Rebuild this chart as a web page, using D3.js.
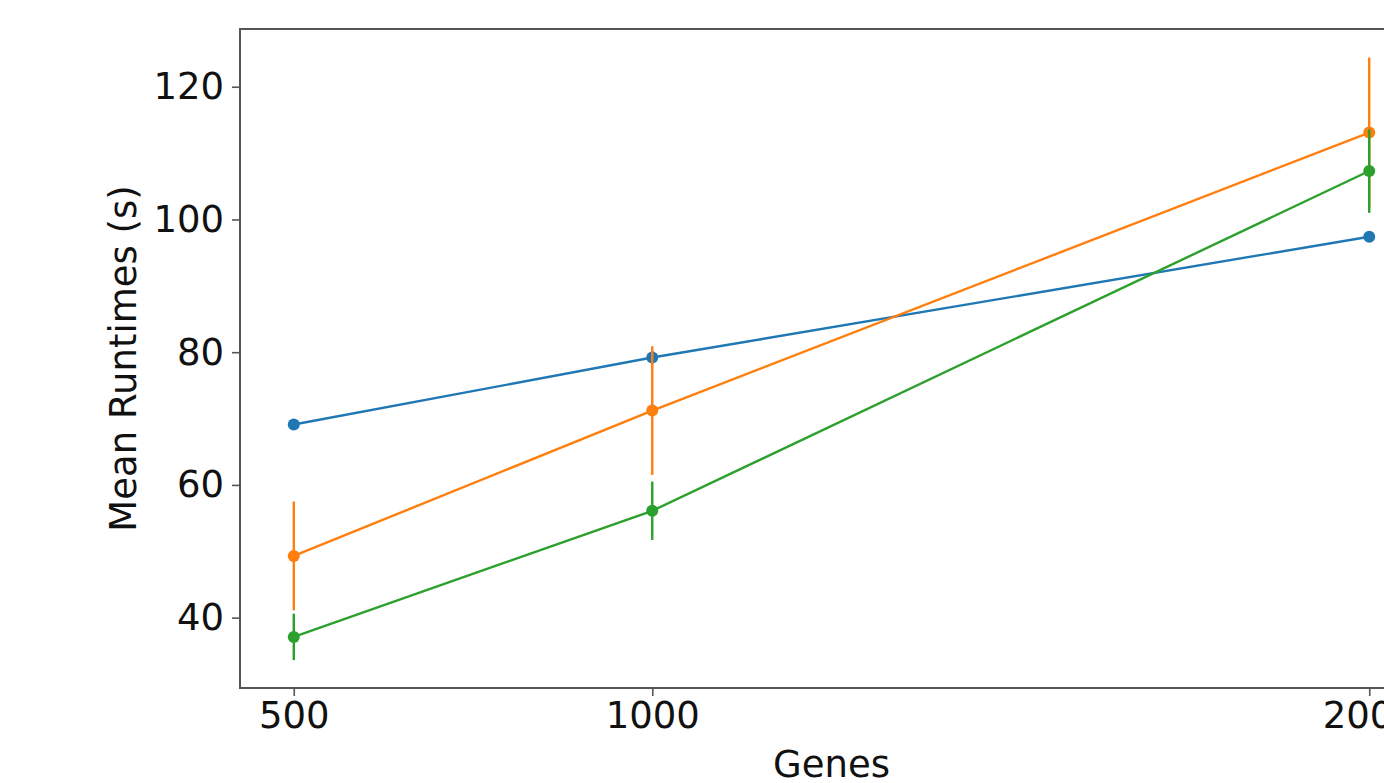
<!DOCTYPE html>
<html>
<head>
<meta charset="utf-8">
<script src="https://cdn.jsdelivr.net/npm/d3@7"></script>
<style>
  html, body { margin: 0; padding: 0; background: #fff; overflow: hidden; }
  svg { display: block; font-family: "DejaVu Sans", sans-serif; }
</style>
</head>
<body>
<div id="chart"></div>
<script>
const genes = [500, 1000, 2000];
const xTicks = [500, 1000, 2000];
const yTicks = [40, 60, 80, 100, 120];

// mean runtime and error per series, in gene order
const seriesNames = ["blue", "orange", "green"];
const seriesColors = ["#1f77b4", "#ff7f0e", "#2ca02c"];
const blueMean = [69.1, 79.2, 97.4];
const blueErr = [0.8, 1.0, 0.8];
const orangeMean = [49.3, 71.2, 113.1];
const orangeErr = [8.2, 9.7, 11.3];
const greenMean = [37.1, 56.1, 107.3];
const greenErr = [3.5, 4.4, 6.3];

const series = [
  { name: seriesNames[0], color: seriesColors[0], mean: blueMean, err: blueErr },
  { name: seriesNames[1], color: seriesColors[1], mean: orangeMean, err: orangeErr },
  { name: seriesNames[2], color: seriesColors[2], mean: greenMean, err: greenErr },
];

const width = 1384;
const height = 783;
const margin = { top: 29, right: -39, bottom: 95, left: 240 };

const svg = d3.select("#chart").append("svg")
  .attr("width", width)
  .attr("height", height);

const x = d3.scaleLinear()
  .domain([425, 2075])
  .range([margin.left, width - margin.right]);

const y = d3.scaleLinear()
  .domain([29.4, 128.7])
  .range([height - margin.bottom, margin.top]);

const line = d3.line()
  .x((d) => x(d.g))
  .y((d) => y(d.v));

const plot = svg.append("g");

series.forEach((s) => {
  const pts = genes.map((g, i) => ({ g, v: s.mean[i], e: s.err[i] }));
  const g = plot.append("g").attr("class", "series-" + s.name);

  g.append("path")
    .datum(pts)
    .attr("fill", "none")
    .attr("stroke", s.color)
    .attr("stroke-width", 2.4)
    .attr("d", line);

  g.selectAll(".err")
    .data(pts)
    .join("line")
    .attr("class", "err")
    .attr("x1", (d) => x(d.g))
    .attr("x2", (d) => x(d.g))
    .attr("y1", (d) => y(d.v - d.e))
    .attr("y2", (d) => y(d.v + d.e))
    .attr("stroke", s.color)
    .attr("stroke-width", 2.4);

  g.selectAll(".dot")
    .data(pts)
    .join("circle")
    .attr("class", "dot")
    .attr("cx", (d) => x(d.g))
    .attr("cy", (d) => y(d.v))
    .attr("r", 6)
    .attr("fill", s.color);
});

// frame
svg.append("rect")
  .attr("x", margin.left)
  .attr("y", margin.top)
  .attr("width", x.range()[1] - margin.left)
  .attr("height", y.range()[0] - margin.top)
  .attr("fill", "none")
  .attr("stroke", "#555")
  .attr("stroke-width", 2);

const xAxis = svg.append("g")
  .attr("transform", `translate(0,${y.range()[0]})`)
  .call(d3.axisBottom(x).tickValues(xTicks).tickSize(8).tickPadding(6).tickFormat(d3.format("d")));

const yAxis = svg.append("g")
  .attr("transform", `translate(${margin.left},0)`)
  .call(d3.axisLeft(y).tickValues(yTicks).tickSize(8).tickPadding(8));

[xAxis, yAxis].forEach((a) => {
  a.select(".domain").remove();
  a.selectAll(".tick line").attr("stroke", "#555").attr("stroke-width", 1.6);
  a.selectAll(".tick text")
    .attr("fill", "#111")
    .style("font-family", "'DejaVu Sans', sans-serif")
    .style("font-size", "37px");
});

svg.append("text")
  .attr("x", (margin.left + x.range()[1]) / 2)
  .attr("y", 777)
  .attr("text-anchor", "middle")
  .attr("fill", "#111")
  .style("font-size", "37px")
  .text("Genes");

svg.append("text")
  .attr("transform", `translate(136,${(margin.top + y.range()[0]) / 2}) rotate(-90)`)
  .attr("text-anchor", "middle")
  .attr("fill", "#111")
  .style("font-size", "37px")
  .text("Mean Runtimes (s)");
</script>
</body>
</html>
